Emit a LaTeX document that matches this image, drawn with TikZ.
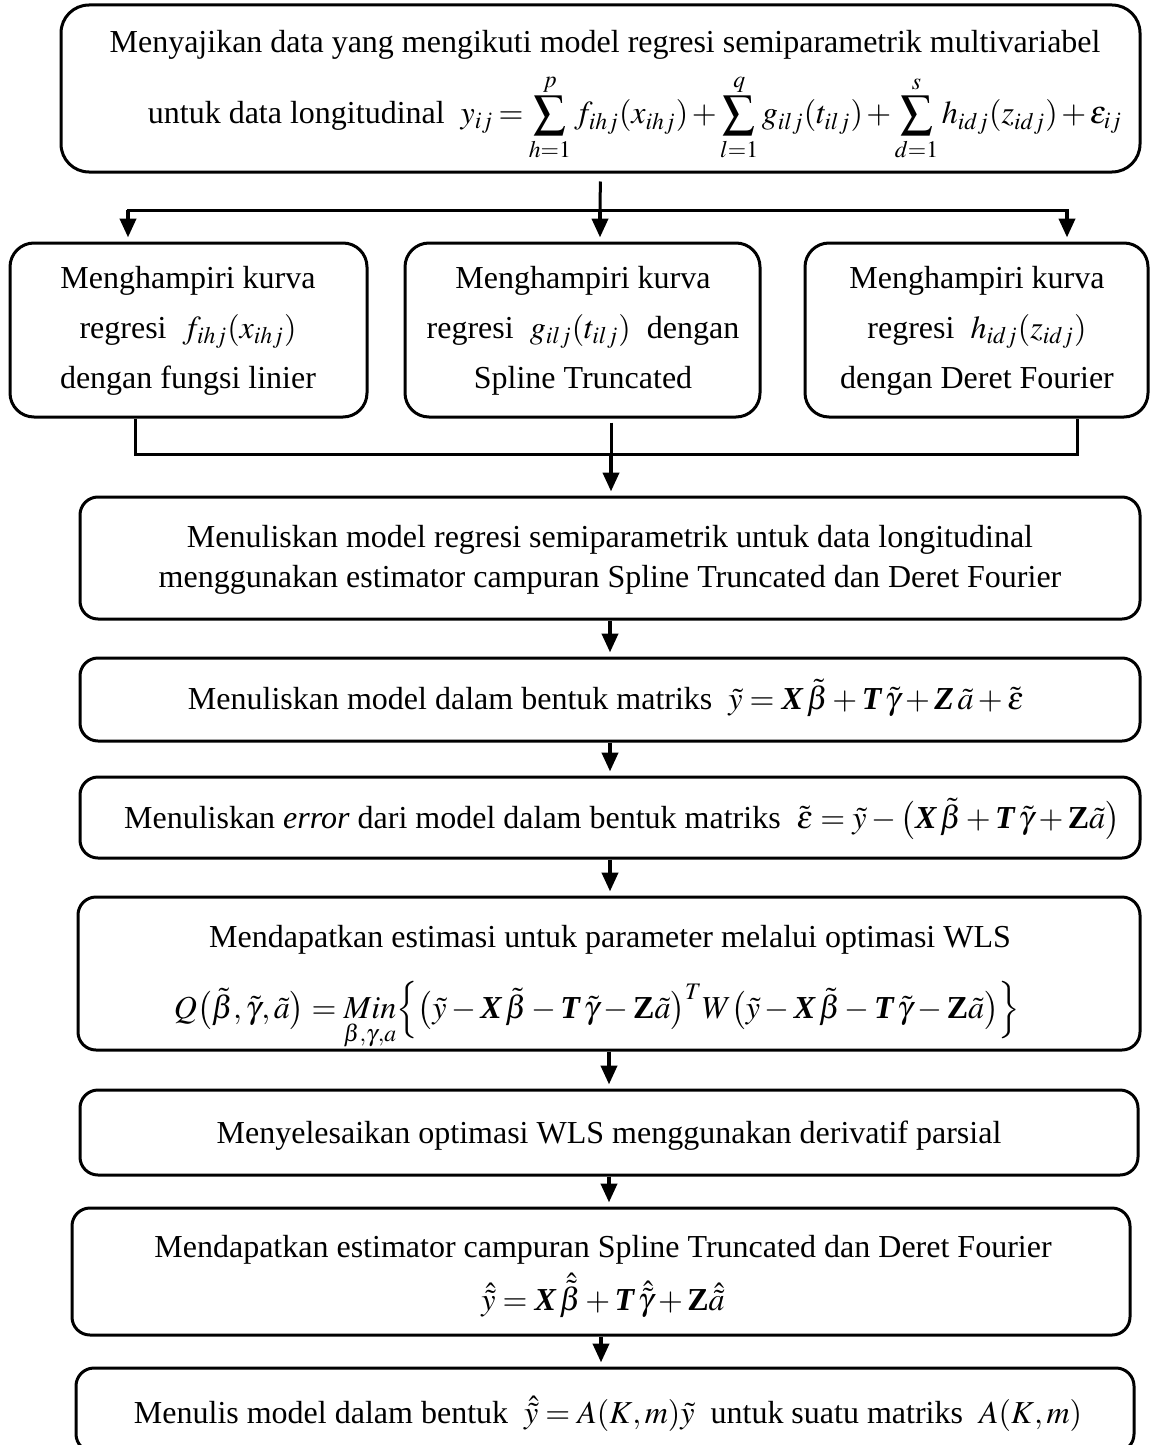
\documentclass[tikz,border=0pt]{standalone}
\usepackage{amsmath}
\usepackage{mathptmx}
\usepackage{fontspec}
\setmainfont{Liberation Serif}
\usetikzlibrary{arrows.meta,fit}
\newcommand{\bvec}[1]{\text{\bfseries\itshape #1}}
\newcommand{\bup}[1]{\text{\bfseries #1}}
\begin{document}
\begin{tikzpicture}[x=0.5pt,y=-0.5pt,
  boxr/.style={draw,line width=1.5pt,rounded corners=#1,inner sep=0pt},
  boxr/.default=9pt,
  txt/.style={anchor=base,inner sep=0pt,font=\fontsize{16}{19}\selectfont},
  ln/.style={line width=1.5pt},
  arr/.style={line width=2pt,-{Triangle[width=8pt,length=9.5pt]},shorten >=2pt},
]
\useasboundingbox (0,0) rectangle (1153,1445);

% boxes
\node[boxr=14pt, fit={(61,5) (1140,172)}] (b1) {};
\node[boxr=12pt, fit={(10,243) (367,417)}] (bA) {};
\node[boxr=12pt, fit={(405,243) (760,417)}] (bB) {};
\node[boxr=12pt, fit={(805,243) (1148,417)}] (bC) {};
\node[boxr, fit={(80,497) (1140,619)}] (bD) {};
\node[boxr, fit={(80,658) (1140,741)}] (bE) {};
\node[boxr, fit={(80,777) (1140,858)}] (bF) {};
\node[boxr, fit={(78,897) (1140,1050)}] (bG) {};
\node[boxr, fit={(80,1090) (1138,1175)}] (bH) {};
\node[boxr, fit={(72,1208) (1130,1335)}] (bI) {};
\node[boxr, fit={(76,1368) (1134,1452)}] (bJ) {};

% texts
\node[txt] (t1a) at (605,53) {Menyajikan data yang mengikuti model regresi semiparametrik multivariabel};
\node[txt] (t1b) at (635,124) {\medmuskip=2mu\thickmuskip=3mu untuk data longitudinal~ $\displaystyle y_{ij} = \sum_{h=1}^{p} f_{ihj}(x_{ihj}) + \sum_{l=1}^{q} g_{ilj}(t_{ilj}) + \sum_{d=1}^{s} h_{idj}(z_{idj}) +\varepsilon_{ij}$};

\node[txt] (tA1) at (188,288) {Menghampiri kurva};
\node[txt] (tA2) at (188,338) {regresi~ $f_{ihj}(x_{ihj})$};
\node[txt] (tA3) at (188,388) {dengan fungsi linier};

\node[txt] (tB1) at (583,288) {Menghampiri kurva};
\node[txt] (tB2) at (583,338) {regresi~ $g_{ilj}(t_{ilj})$~ dengan};
\node[txt] (tB3) at (583,388) {Spline Truncated};

\node[txt] (tC1) at (977,288) {Menghampiri kurva};
\node[txt] (tC2) at (977,338) {regresi~ $h_{idj}(z_{idj})$};
\node[txt] (tC3) at (977,388) {dengan Deret Fourier};

\node[txt] (tD1) at (610,547) {Menuliskan model regresi semiparametrik untuk data longitudinal};
\node[txt] (tD2) at (610,587) {menggunakan estimator campuran Spline Truncated dan Deret Fourier};

\node[txt] (tE) at (606,709) {Menuliskan model dalam bentuk matriks~ $\tilde{y} = \bvec{X}\,\tilde{\beta} + \bvec{T}\,\tilde{\gamma} + \bvec{Z}\,\tilde{a} + \tilde{\varepsilon}$};

\node[txt] (tF) at (622,828) {Menuliskan \textit{error} dari model dalam bentuk matriks~ $\tilde{\varepsilon} = \tilde{y} - \bigl(\bvec{X}\,\tilde{\beta} + \bvec{T}\,\tilde{\gamma} + \bup{Z}\tilde{a}\bigr)$};

\node[txt] (tG1) at (610,947) {Mendapatkan estimasi untuk parameter melalui optimasi WLS};
\node[txt] (tG2) at (597,1018) {$Q\bigl(\tilde{\beta},\tilde{\gamma},\tilde{a}\bigr) = \mathop{Min}\limits_{\beta,\gamma,a}\Bigl\{\bigl(\tilde{y} - \bvec{X}\,\tilde{\beta} - \bvec{T}\,\tilde{\gamma} - \bup{Z}\tilde{a}\bigr)^{T} W \bigl(\tilde{y} - \bvec{X}\,\tilde{\beta} - \bvec{T}\,\tilde{\gamma} - \bup{Z}\tilde{a}\bigr)\Bigr\}$};

\node[txt] (tH) at (609,1143) {Menyelesaikan optimasi WLS menggunakan derivatif parsial};

\node[txt] (tI1) at (603,1257) {Mendapatkan estimator campuran Spline Truncated dan Deret Fourier};
\node[txt] (tI2) at (603,1310) {$\hat{\tilde{y}} = \bvec{X}\,\hat{\tilde{\beta}} + \bvec{T}\,\hat{\tilde{\gamma}} + \bup{Z}\hat{\tilde{a}}$};

\node[txt] (tJ) at (608,1423) {Menulis model dalam bentuk~ $\hat{\tilde{y}} = A(K,m)\tilde{y}$~ untuk suatu matriks~ $A(K,m)$};

% connectors
\coordinate (s1) at (600,210);
\coordinate (sl) at (128,210);
\coordinate (sr) at (1067,210);
\draw[ln, shorten <=4pt] (b1.south) -- (s1);
\draw[ln, line cap=rect] (sl) -- (sr);
\draw[arr] (sl) -- (sl |- bA.north);
\draw[arr] (s1) -- (s1 |- bB.north);
\draw[arr] (sr) -- (sr |- bC.north);

\coordinate (ml) at (135,454);
\coordinate (mm) at (611,454);
\coordinate (mr) at (1077,454);
\draw[ln] (ml |- bA.south) -- (ml) -- (mr) -- (mr |- bC.south);
\draw[ln, shorten <=2pt] (mm |- bB.south) -- (mm);
\draw[arr] (mm) -- (mm |- bD.north);

\draw[arr] (bD.south) -- (bD.south |- bE.north);
\draw[arr] (bE.south) -- (bE.south |- bF.north);
\draw[arr] (bF.south) -- (bF.south |- bG.north);
\draw[arr] (bG.south) -- (bG.south |- bH.north);
\draw[arr] (bH.south) -- (bH.south |- bI.north);
\draw[arr] (bI.south) -- (bI.south |- bJ.north);
\end{tikzpicture}
\end{document}
